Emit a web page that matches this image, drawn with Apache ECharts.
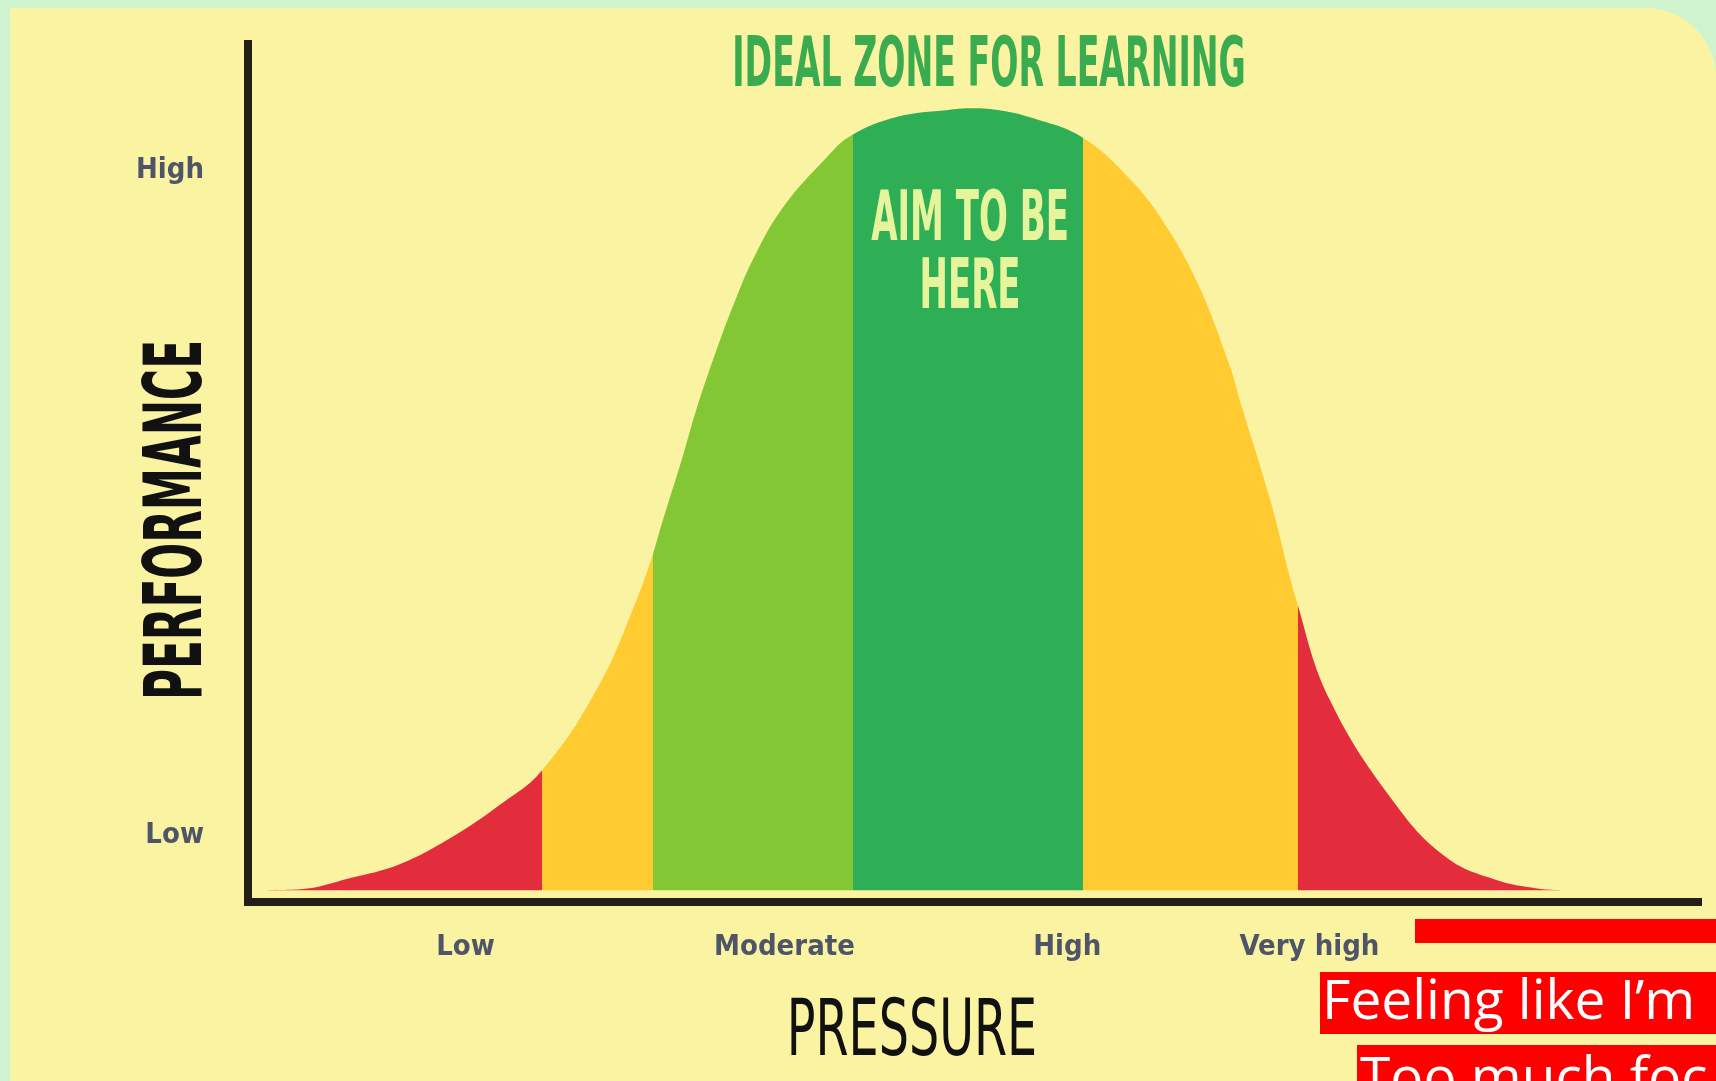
<!DOCTYPE html>
<html>
<head>
<meta charset="utf-8">
<title>Performance vs pressure</title>
<script src="https://cdn.jsdelivr.net/npm/echarts@6/dist/echarts.min.js"></script>
<style>
html, body { margin: 0; padding: 0; background: #cff3cf; }
#chart { width: 1716px; height: 1081px; }
</style>
</head>
<body>
<div id="chart"></div>
<script>
// curve: pressure (x, 0-100) and performance (y, 0-100)
var pressure = [1.4, 3.6, 7.0, 10.5, 13.9, 17.3, 20.3, 24.2, 26.8, 27.9, 28.5, 29.9, 30.9, 32.3, 33.6, 34.9, 36.9,
    39.9, 41.6, 44.8, 48.3, 49.7, 51.7, 54.0, 57.6, 60.9, 63.2, 65.5, 67.7, 68.4, 70.5, 72.3, 74.6, 79.2,
    82.7, 86.1, 88.9, 90.7]
var performance = [0, 0.1, 1.4, 3.1, 6.1, 10.0, 14.2, 24.2, 34.3, 39.6, 43.1, 50.8, 56.7, 63.8, 69.7, 74.8, 80.7,
    86.6, 89.2, 91.4, 92.2, 92.4, 92.2, 91.3, 88.9, 83.9, 78.8, 71.7, 62.0, 57.9, 46.1, 34.3, 22.5, 10.0,
    3.8, 1.2, 0.2, 0]

// colour zones along the pressure axis
var zoneEdges = [20.3, 27.9, 41.7, 57.6, 72.4]
var zoneColors = ['#e42d3c', '#ffcb31', '#84c735', '#2eae55', '#ffcb31', '#e42d3c']

// tick labels
var pressureTicks = [15, 37, 56.5, 73.2]
var pressureLabels = ['Low', 'Moderate', 'High', 'Very high']
var perfTicks = [6.5, 85]
var perfLabels = ['Low', 'High']

var narrow = "'Liberation Sans Narrow', 'DejaVu Sans Condensed', sans-serif"

let curve = function () {
    let pts = []
    for (let i = 0; i < pressure.length; i++) {
        pts.push([pressure[i], performance[i]])
    }
    return pts
}

let pieces = function () {
    let out = []
    for (let i = 0; i < zoneColors.length; i++) {
        let p = { color: zoneColors[i] }
        if (i > 0) p.gt = zoneEdges[i - 1]
        if (i < zoneEdges.length) p.lte = zoneEdges[i]
        out.push(p)
    }
    return out
}

let myChart = echarts.init(document.getElementById('chart'))
let option = {
    animation: false,
    backgroundColor: '#cff3cf',
    grid: { left: 248, right: 18, top: 44, bottom: 179 },
    visualMap: {
        show: false,
        type: 'piecewise',
        dimension: 0,
        seriesIndex: 0,
        pieces: pieces()
    },
    xAxis: {
        type: 'value',
        min: 0,
        max: 100,
        axisLine: { onZero: false, lineStyle: { color: '#241f16', width: 8, cap: 'square' } },
        axisTick: { show: false },
        splitLine: { show: false },
        axisLabel: {
            customValues: pressureTicks,
            margin: 31,
            fontFamily: narrow,
            fontWeight: 'bold',
            fontSize: 29,
            color: '#4e5568',
            formatter: function (v) {
                let i = pressureTicks.indexOf(v)
                return i >= 0 ? pressureLabels[i] : ''
            }
        }
    },
    yAxis: {
        type: 'value',
        min: -1.4,
        max: 100,
        axisLine: { show: true, lineStyle: { color: '#241f16', width: 8, cap: 'square' } },
        axisTick: { show: false },
        splitLine: { show: false },
        axisLabel: {
            customValues: perfTicks,
            margin: 44,
            fontFamily: narrow,
            fontWeight: 'bold',
            fontSize: 29,
            color: '#4e5568',
            formatter: function (v) {
                let i = perfTicks.indexOf(v)
                return i >= 0 ? perfLabels[i] : ''
            }
        }
    },
    series: [{
        name: 'performance',
        type: 'line',
        data: curve(),
        smooth: 0.4,
        showSymbol: false,
        lineStyle: { width: 0 },
        areaStyle: { opacity: 1, origin: 0 },
        z: 2
    }],
    graphic: [
        {
            type: 'rect', z: -10, silent: true,
            shape: { x: 10, y: 8, width: 1706, height: 1073, r: [0, 70, 0, 0] },
            style: { fill: '#faf4a2' }
        },
        {
            type: 'text', z: 100, x: 989, y: 68, scaleX: 0.82, scaleY: 1.53,
            style: {
                text: 'IDEAL ZONE FOR LEARNING', fontSize: 45, fontWeight: 'bold', fontFamily: narrow,
                fill: '#3aab4f', align: 'center', verticalAlign: 'middle', textAlign: 'center', textVerticalAlign: 'middle'
            }
        },
        {
            type: 'text', z: 100, x: 970, y: 256, scaleX: 0.84, scaleY: 1.53,
            style: {
                text: 'AIM TO BE\nHERE', fontSize: 45, lineHeight: 44, fontWeight: 'bold', fontFamily: narrow,
                fill: '#e6f59b', align: 'center', verticalAlign: 'middle', textAlign: 'center', textVerticalAlign: 'middle'
            }
        },
        {
            type: 'text', z: 100, x: 180, y: 520, scaleX: 0.855, scaleY: 1.47, rotation: Math.PI / 2,
            style: {
                text: 'PERFORMANCE', fontSize: 55, fontWeight: 'bold', fontFamily: narrow,
                fill: '#111111', align: 'center', verticalAlign: 'middle', textAlign: 'center', textVerticalAlign: 'middle'
            }
        },
        {
            type: 'text', z: 100, x: 912, y: 1035, scaleX: 0.98, scaleY: 1.46,
            style: {
                text: 'PRESSURE', fontSize: 54, fontFamily: narrow,
                fill: '#111111', align: 'center', verticalAlign: 'middle', textAlign: 'center', textVerticalAlign: 'middle'
            }
        },
        // red text boxes at the bottom right
        {
            type: 'rect', z: 90, silent: true,
            shape: { x: 1415, y: 919, width: 320, height: 24 },
            style: { fill: '#ff0000' }
        },
        {
            type: 'rect', z: 90, silent: true,
            shape: { x: 1320, y: 972, width: 420, height: 62 },
            style: { fill: '#ff0000' }
        },
        {
            type: 'text', z: 100, x: 1322, y: 1003,
            style: {
                text: 'Feeling like I’m', fontSize: 55, fontFamily: "'Open Sans', sans-serif",
                fill: '#ffffff', align: 'left', verticalAlign: 'middle', textAlign: 'left', textVerticalAlign: 'middle'
            }
        },
        {
            type: 'rect', z: 90, silent: true,
            shape: { x: 1357, y: 1045, width: 380, height: 60 },
            style: { fill: '#ff0000' }
        },
        {
            type: 'text', z: 100, x: 1360, y: 1080,
            style: {
                text: 'Too much foc', fontSize: 55, fontFamily: "'Open Sans', sans-serif",
                fill: '#ffffff', align: 'left', verticalAlign: 'middle', textAlign: 'left', textVerticalAlign: 'middle'
            }
        }
    ]
}

myChart.setOption(option)
</script>
</body>
</html>
